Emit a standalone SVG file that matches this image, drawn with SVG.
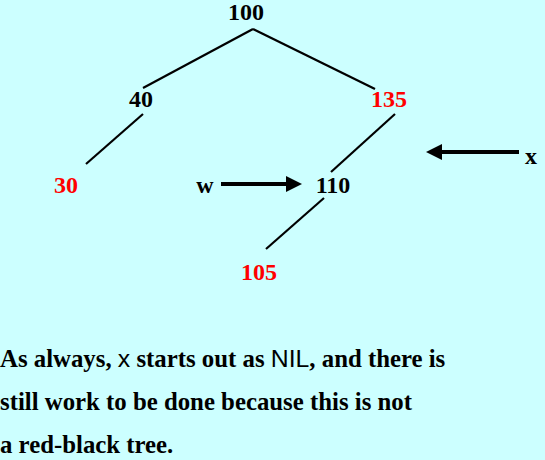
<svg xmlns="http://www.w3.org/2000/svg" width="545" height="460" viewBox="0 0 545 460">
<style>
.n{font-family:"Liberation Serif","Times New Roman",serif;font-weight:bold;font-size:24px;text-anchor:middle}
.b{fill:#000}
.r{fill:#ff0000}
.e{stroke:#000;stroke-width:2.2;fill:none}
.a{stroke:#000;stroke-width:4;fill:none}
.t{font-family:"Liberation Serif","Times New Roman",serif;font-weight:bold;font-size:24.8px;fill:#000}
.s{font-family:"Liberation Sans",Arial,sans-serif;font-weight:normal}
</style>
<defs>
<marker id="ah" markerWidth="4" markerHeight="4" refX="0" refY="2" orient="auto" markerUnits="strokeWidth" viewBox="0 0 4 4">
<path d="M0,0 L4,2 L0,4 Z" fill="#000"/>
</marker>
</defs>
<rect width="545" height="460" fill="#ccffff"/>
<g id="connectors">
<line class="e" x1="253" y1="29" x2="143" y2="88"/>
<line class="e" x1="253" y1="29" x2="375" y2="89"/>
<line class="e" x1="143" y1="114" x2="86" y2="164"/>
<line class="e" x1="395" y1="114" x2="331" y2="172"/>
<line class="e" x1="324" y1="198" x2="266" y2="249"/>
<line class="a" x1="221" y1="184" x2="286" y2="184" marker-end="url(#ah)"/>
<line class="a" x1="519" y1="152" x2="442" y2="152" marker-end="url(#ah)"/>
</g>
<g id="n100"><text class="n b" x="246" y="20">100</text></g>
<g id="n40"><text class="n b" x="141" y="107">40</text></g>
<g id="n135"><text class="n r" x="389" y="107">135</text></g>
<g id="n30"><text class="n r" x="66" y="193">30</text></g>
<g id="n110"><text class="n b" x="333" y="193">110</text></g>
<g id="n105"><text class="n r" x="259" y="280">105</text></g>
<g id="lw"><text class="n b" x="205" y="193">w</text></g>
<g id="lx"><text class="n b" x="531" y="164">x</text></g>
<g id="caption">
<text class="t" x="0" y="367">As always, <tspan class="s">x</tspan> starts out as <tspan class="s">NIL</tspan>, and there is</text>
<text class="t" x="0" y="410">still work to be done because this is not</text>
<text class="t" x="0" y="453">a red-black tree.</text>
</g>
</svg>
